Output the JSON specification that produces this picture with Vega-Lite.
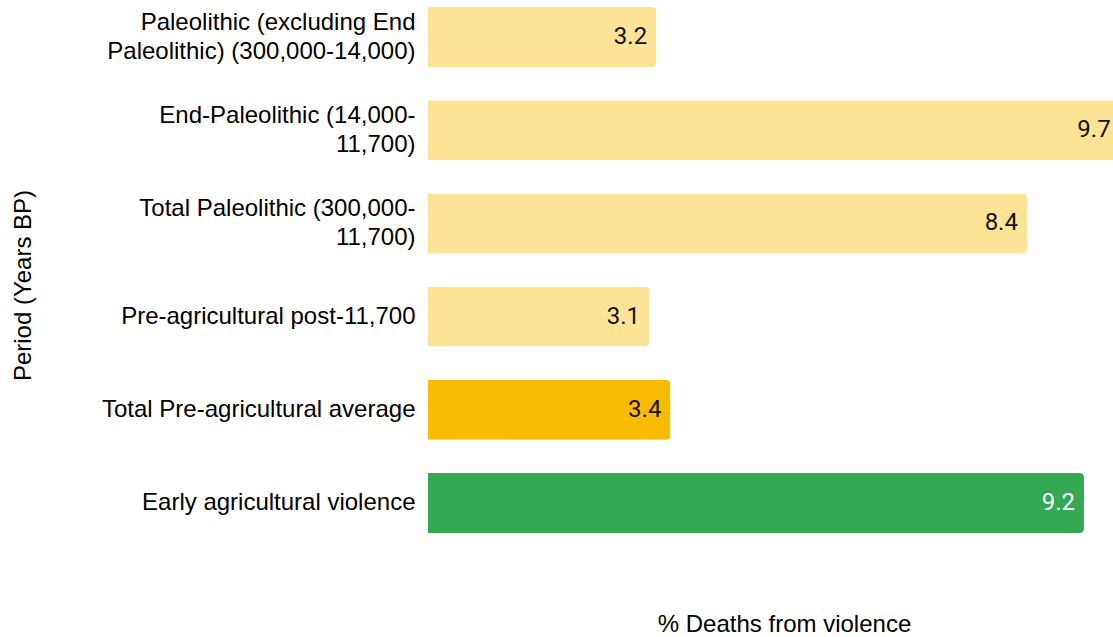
{
  "$schema": "https://vega.github.io/schema/vega-lite/v6.json",
  "width": 685,
  "height": 540,
  "autosize": {"type": "none"},
  "padding": {"left": 428, "top": 0, "right": 0, "bottom": 97},
  "background": "white",
  "config": {"view": {"stroke": null}, "font": "Liberation Sans"},
  "data": {
    "values": [
      {"period": "Paleolithic (excluding End\nPaleolithic) (300,000-14,000)", "value": 3.2, "group": "Pre-agricultural"},
      {"period": "End-Paleolithic (14,000-\n11,700)", "value": 9.7, "group": "Pre-agricultural"},
      {"period": "Total Paleolithic (300,000-\n11,700)", "value": 8.4, "group": "Pre-agricultural"},
      {"period": "Pre-agricultural post-11,700", "value": 3.1, "group": "Pre-agricultural"},
      {"period": "Total Pre-agricultural average", "value": 3.4, "group": "Pre-agricultural average"},
      {"period": "Early agricultural violence", "value": 9.2, "group": "Early agricultural"}
    ]
  },
  "encoding": {
    "y": {
      "field": "period",
      "type": "nominal",
      "sort": null,
      "scale": {"paddingInner": 0.356, "paddingOuter": 0.075},
      "axis": {
        "title": "Period (Years BP)",
        "titleFont": "Liberation Sans",
        "titleFontSize": 24,
        "titleFontWeight": "normal",
        "titleColor": "#000",
        "titlePadding": 193,
        "titleY": 285,
        "labelFont": "Liberation Sans",
        "labelFontSize": 24,
        "labelColor": "#000",
        "labelLimit": 420,
        "labelLineHeight": 29,
        "labelPadding": 13,
        "labelExpr": "split(datum.label, '\\n')",
        "labelOffset": {"expr": "indexof(datum.label, '\\n') >= 0 ? -14.5 : 0"},
        "ticks": false,
        "domain": false,
        "grid": false
      }
    }
  },
  "layer": [
    {
      "mark": {"type": "bar", "cornerRadiusEnd": 4},
      "encoding": {
        "x": {
          "field": "value",
          "type": "quantitative",
          "scale": {"domain": [0, 9.607], "nice": false, "zero": true},
          "axis": {
            "title": "% Deaths from violence",
            "titleFont": "Liberation Sans",
            "titleFontSize": 24,
            "titleFontWeight": "normal",
            "titleColor": "#000",
            "titlePadding": 72,
            "titleX": 356,
            "labels": false,
            "ticks": false,
            "domain": false,
            "grid": false
          }
        },
        "color": {
          "field": "group",
          "type": "nominal",
          "scale": {
            "domain": ["Pre-agricultural", "Pre-agricultural average", "Early agricultural"],
            "range": ["#fde395", "#f9bc02", "#34a853"]
          },
          "legend": null
        }
      }
    },
    {
      "mark": {"type": "text", "align": "right", "baseline": "middle", "dx": -9, "font": "Roboto", "fontSize": 24},
      "encoding": {
        "x": {"field": "value", "type": "quantitative"},
        "text": {"field": "value", "type": "quantitative", "format": ".1f"},
        "color": {
          "condition": {"test": "datum.group === 'Early agricultural'", "value": "#ffffff"},
          "value": "#111111"
        }
      }
    }
  ]
}
